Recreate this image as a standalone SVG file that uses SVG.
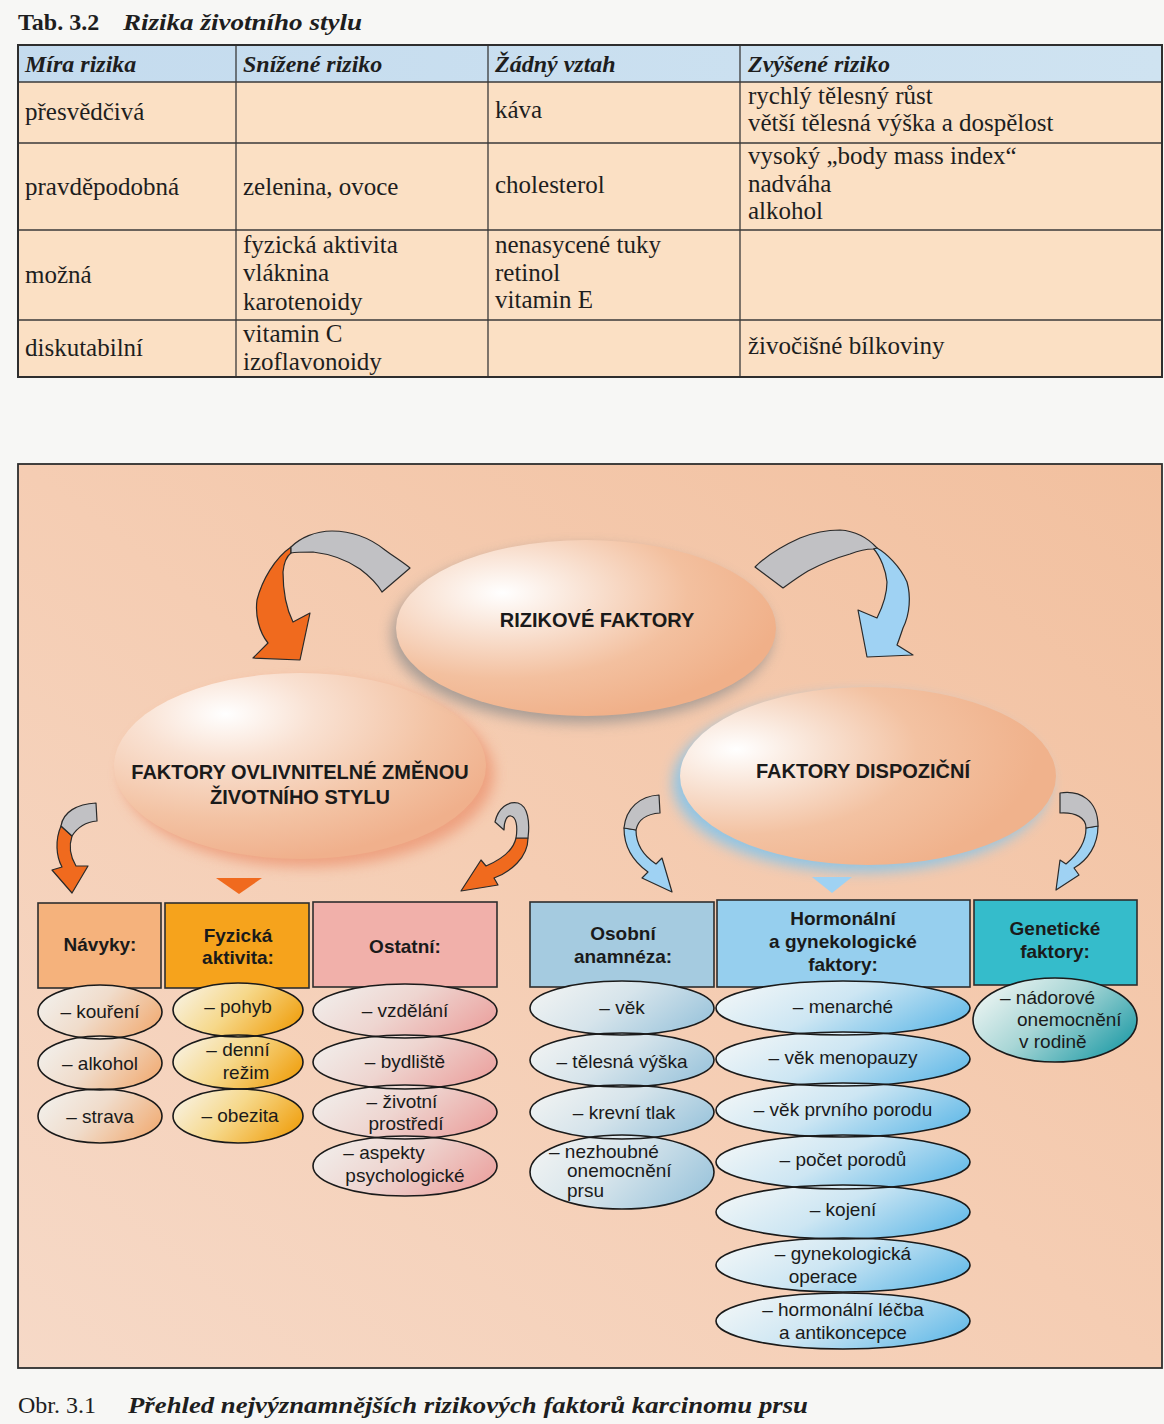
<svg xmlns="http://www.w3.org/2000/svg" width="1164" height="1424" viewBox="0 0 1164 1424">
  <defs>
    <style>
      .tb { font-family: "Liberation Serif", "Times New Roman", serif; font-size: 25px; fill: #1e1e1e; }
      .th { font-family: "Liberation Serif", "Times New Roman", serif; font-size: 24px; font-style: italic; font-weight: bold; fill: #1e1e1e; }
      .cap { font-family: "Liberation Serif", "Times New Roman", serif; font-size: 24px; fill: #1e1e1e; }
      .big { font-family: "Liberation Sans", Arial, sans-serif; font-size: 20px; font-weight: bold; fill: #1a1a1a; text-anchor: middle; }
      .hd { font-family: "Liberation Sans", Arial, sans-serif; font-size: 19px; font-weight: bold; fill: #1a1a1a; text-anchor: middle; }
      .it { font-family: "Liberation Sans", Arial, sans-serif; font-size: 19px; fill: #1a1a1a; text-anchor: middle; }
      .itl { font-family: "Liberation Sans", Arial, sans-serif; font-size: 19px; fill: #1a1a1a; }
      .grid { stroke: #3a3a3a; stroke-width: 1.3; fill: none; }
      .box { stroke: #2e2e2e; stroke-width: 1.6; }
      .ol { fill: none; stroke: #1a1a1a; stroke-width: 1.6; }
      .arr { stroke: #2a2a2a; stroke-width: 1.2; stroke-linejoin: round; }
      .grey { fill: #c1c1c4; }
      .orange { fill: #f06a1e; }
      .blue { fill: #9fd2f3; }
    </style>
    <linearGradient id="bgDiag" x1="1" y1="0" x2="0" y2="1">
      <stop offset="0" stop-color="#f2c09f"/>
      <stop offset="0.5" stop-color="#f5cdb3"/>
      <stop offset="1" stop-color="#f6d9c7"/>
    </linearGradient>
    <linearGradient id="thead" x1="0" y1="0" x2="1" y2="0">
      <stop offset="0" stop-color="#c4dbee"/>
      <stop offset="1" stop-color="#cfe3f1"/>
    </linearGradient>
    <radialGradient id="gRiz" cx="0.28" cy="0.3" r="0.75">
      <stop offset="0" stop-color="#ffffff"/>
      <stop offset="0.3" stop-color="#f9e2d3"/>
      <stop offset="0.65" stop-color="#f3c09f"/>
      <stop offset="1" stop-color="#f0b089"/>
    </radialGradient>
    <radialGradient id="gOvl" cx="0.3" cy="0.22" r="0.8">
      <stop offset="0" stop-color="#ffffff"/>
      <stop offset="0.3" stop-color="#f9e1d2"/>
      <stop offset="0.7" stop-color="#f3c3a4"/>
      <stop offset="1" stop-color="#f0b08c"/>
    </radialGradient>
    <radialGradient id="gDis" cx="0.15" cy="0.35" r="0.8">
      <stop offset="0" stop-color="#ffffff"/>
      <stop offset="0.3" stop-color="#f8e0d0"/>
      <stop offset="0.6" stop-color="#f3c2a2"/>
      <stop offset="1" stop-color="#f0b28c"/>
    </radialGradient>
    <linearGradient id="gNav" x1="0" y1="0.3" x2="1" y2="0.7">
      <stop offset="0" stop-color="#f2efea"/>
      <stop offset="0.45" stop-color="#f0dccb"/>
      <stop offset="1" stop-color="#f1ad76"/>
    </linearGradient>
    <linearGradient id="gFyz" x1="0" y1="0.3" x2="1" y2="0.7">
      <stop offset="0" stop-color="#f8f0dc"/>
      <stop offset="0.45" stop-color="#f6d88a"/>
      <stop offset="1" stop-color="#f0a010"/>
    </linearGradient>
    <linearGradient id="gOst" x1="0" y1="0.3" x2="1" y2="0.7">
      <stop offset="0" stop-color="#f1ece9"/>
      <stop offset="0.45" stop-color="#eed5d0"/>
      <stop offset="1" stop-color="#eba3a0"/>
    </linearGradient>
    <linearGradient id="gOso" x1="0" y1="0.3" x2="1" y2="0.7">
      <stop offset="0" stop-color="#eff2f2"/>
      <stop offset="0.45" stop-color="#d6e4eb"/>
      <stop offset="1" stop-color="#9cc5dc"/>
    </linearGradient>
    <linearGradient id="gHor" x1="0" y1="0.3" x2="1" y2="0.7">
      <stop offset="0" stop-color="#eff5f7"/>
      <stop offset="0.45" stop-color="#cde6f3"/>
      <stop offset="1" stop-color="#66bbe8"/>
    </linearGradient>
    <linearGradient id="gGen" x1="0" y1="0.2" x2="1" y2="0.8">
      <stop offset="0" stop-color="#eef5f3"/>
      <stop offset="0.45" stop-color="#a8d6d6"/>
      <stop offset="1" stop-color="#1e9ba6"/>
    </linearGradient>
    <filter id="soft" x="-20%" y="-20%" width="140%" height="140%">
      <feGaussianBlur stdDeviation="7"/>
    </filter>
  </defs>

  <!-- page -->
  <rect x="0" y="0" width="1164" height="1424" fill="#f7f7f5"/>

  <!-- table title -->
  <text x="18" y="30" class="cap" font-weight="bold">Tab. 3.2</text>
  <text x="123" y="30" class="th" textLength="239" lengthAdjust="spacingAndGlyphs">Rizika životního stylu</text>

  <!-- table -->
  <g id="table">
    <rect x="18" y="45" width="1144" height="37" fill="url(#thead)"/>
    <rect x="18" y="82" width="1144" height="295" fill="#fbe0c4"/>
    <g class="grid">
      <line x1="18" y1="82" x2="1162" y2="82"/>
      <line x1="18" y1="143" x2="1162" y2="143"/>
      <line x1="18" y1="230" x2="1162" y2="230"/>
      <line x1="18" y1="320" x2="1162" y2="320"/>
      <line x1="236" y1="45" x2="236" y2="377"/>
      <line x1="488" y1="45" x2="488" y2="377"/>
      <line x1="740" y1="45" x2="740" y2="377"/>
    </g>
    <rect x="18" y="45" width="1144" height="332" fill="none" stroke="#2e2e2e" stroke-width="2"/>

    <text x="25" y="72" class="th">Míra rizika</text>
    <text x="243" y="72" class="th">Snížené riziko</text>
    <text x="495" y="72" class="th">Žádný vztah</text>
    <text x="748" y="72" class="th">Zvýšené riziko</text>

    <text x="25" y="120" class="tb">přesvědčivá</text>
    <text x="495" y="118" class="tb">káva</text>
    <text x="748" y="104" class="tb">rychlý tělesný růst</text>
    <text x="748" y="131" class="tb">větší tělesná výška a dospělost</text>

    <text x="25" y="195" class="tb">pravděpodobná</text>
    <text x="243" y="195" class="tb">zelenina, ovoce</text>
    <text x="495" y="193" class="tb">cholesterol</text>
    <text x="748" y="164" class="tb">vysoký „body mass index“</text>
    <text x="748" y="192" class="tb">nadváha</text>
    <text x="748" y="219" class="tb">alkohol</text>

    <text x="25" y="283" class="tb">možná</text>
    <text x="243" y="253" class="tb">fyzická aktivita</text>
    <text x="243" y="281" class="tb">vláknina</text>
    <text x="243" y="310" class="tb">karotenoidy</text>
    <text x="495" y="253" class="tb">nenasycené tuky</text>
    <text x="495" y="281" class="tb">retinol</text>
    <text x="495" y="308" class="tb">vitamin E</text>

    <text x="25" y="356" class="tb">diskutabilní</text>
    <text x="243" y="342" class="tb">vitamin C</text>
    <text x="243" y="370" class="tb">izoflavonoidy</text>
    <text x="748" y="354" class="tb">živočišné bílkoviny</text>
  </g>

  <!-- figure panel -->
  <rect x="18" y="464" width="1144" height="904" fill="url(#bgDiag)" stroke="#2e2e2e" stroke-width="1.8"/>

  <!-- main factor groups -->
  <g id="node-ovlivnitelne">
    <ellipse cx="308" cy="774" rx="186" ry="93" fill="#ec9572" opacity="0.8" filter="url(#soft)"/>
    <ellipse cx="300" cy="766" rx="186" ry="93" fill="url(#gOvl)"/>
    <text x="300" y="779" class="big">FAKTORY OVLIVNITELNÉ ZMĚNOU</text>
    <text x="300" y="804" class="big">ŽIVOTNÍHO STYLU</text>
  </g>

  <g id="node-dispozicni">
    <ellipse cx="861" cy="783" rx="188" ry="89" fill="#7ec4ef" opacity="0.85" filter="url(#soft)"/>
    <ellipse cx="868" cy="776" rx="188" ry="89" fill="url(#gDis)"/>
    <text x="863" y="778" class="big">FAKTORY DISPOZIČNÍ</text>
  </g>

  <g id="node-rizikove">
    <ellipse cx="582" cy="635" rx="190" ry="88" fill="#8c8c8c" opacity="0.75" filter="url(#soft)"/>
    <ellipse cx="586" cy="628" rx="190" ry="88" fill="url(#gRiz)"/>
    <text x="597" y="627" class="big">RIZIKOVÉ FAKTORY</text>
  </g>

  <!-- curved block arrows and pointers -->
  <g id="connectors" class="arr">
    <!-- RIZIKOVÉ FAKTORY -> lifestyle factors -->
    <path class="orange" d="M291,547 C275,558 262,580 257,600 C255,615 259,632 268,643 L253,658 L300,660 L310,613 L293,622 C286,608 283,590 283,572 C284,562 287,556 291,553 Z"/>
    <path class="grey" d="M291,547 C300,538 315,531 332,531 C352,531 370,538 385,550 C396,558 404,563 410,568 L382,592 C376,582 368,575 360,569 C347,560 330,554 313,552 C304,552 296,552 291,553 Z"/>

    <!-- RIZIKOVÉ FAKTORY -> predisposing factors -->
    <path class="blue" d="M877,548 C886,553 900,566 907,582 C911,596 910,614 903,628 C901,634 899,640 897,645 L913,655 L867,657 L858,610 L877,618 C882,608 887,594 887,582 C886,571 881,557 873,548 Z"/>
    <path class="grey" d="M755,567 C765,557 780,547 800,538 C815,532 828,530 840,530 C855,531 868,538 877,548 L873,549 C866,549 858,551 850,554 C836,558 821,564 808,571 C798,577 790,583 783,588 Z"/>

    <!-- lifestyle factors -> Návyky -->
    <path class="orange" d="M61,826 C55,840 56,856 62,867 L52,870 L72,893 L88,866 L76,866 C70,856 69,845 72,836 Z"/>
    <path class="grey" d="M61,826 C63,812 77,804 96,803 L97,821 C86,822 77,828 72,836 Z"/>

    <!-- lifestyle factors -> Fyzická aktivita -->
    <polygon class="orange" points="216,878 262,878 239,894" stroke="none"/>

    <!-- lifestyle factors -> Ostatní -->
    <path class="orange" d="M528,838 C528,858 510,872 494,878 L498,885 L461,891 L481,860 L486,866 C500,860 513,852 516,838 Z"/>
    <path class="grey" d="M495,822 C498,808 508,801 518,803 C528,806 530,822 528,838 L516,838 C518,826 516,817 511,816 C507,815 504,821 504,830 Z"/>

    <!-- predisposing factors -> Osobní anamnéza -->
    <path class="blue" d="M624,828 C624,848 634,862 648,872 L642,878 L672,892 L662,858 L656,864 C644,856 636,845 636,830 Z"/>
    <path class="grey" d="M659,795 C640,796 626,808 624,828 L636,830 C638,820 646,814 660,813 Z"/>

    <!-- predisposing factors -> Hormonální a gynekologické faktory -->
    <polygon class="blue" points="812,877 852,877 832,893" stroke="none"/>

    <!-- predisposing factors -> Genetické faktory -->
    <path class="blue" d="M1098,826 C1098,845 1088,860 1074,868 L1079,875 L1056,890 L1060,860 L1066,864 C1078,854 1086,842 1086,828 Z"/>
    <path class="grey" d="M1060,793 C1080,790 1098,800 1098,826 L1086,828 C1086,818 1076,812 1060,813 Z"/>
  </g>

  <!-- Návyky -->
  <g id="node-navyky">
    <rect x="38" y="903" width="123" height="85" fill="#f5b27c" class="box"/>
    <text x="100" y="951" class="hd">Návyky:</text>
    <ellipse cx="100" cy="1012" rx="62" ry="27" fill="url(#gNav)"/>
    <ellipse cx="100" cy="1063" rx="62" ry="27" fill="url(#gNav)"/>
    <ellipse cx="100" cy="1116" rx="62" ry="27" fill="url(#gNav)"/>
    <ellipse cx="100" cy="1012" rx="62" ry="27" class="ol"/>
    <ellipse cx="100" cy="1063" rx="62" ry="27" class="ol"/>
    <ellipse cx="100" cy="1116" rx="62" ry="27" class="ol"/>
    <text x="100" y="1018" class="it">– kouření</text>
    <text x="100" y="1070" class="it">– alkohol</text>
    <text x="100" y="1123" class="it">– strava</text>
  </g>

  <!-- Fyzická aktivita -->
  <g id="node-fyzicka">
    <rect x="165" y="903" width="144" height="85" fill="#f6a31c" class="box"/>
    <text x="238" y="942" class="hd">Fyzická</text>
    <text x="238" y="964" class="hd">aktivita:</text>
    <ellipse cx="238" cy="1010" rx="65" ry="27" fill="url(#gFyz)"/>
    <ellipse cx="238" cy="1062" rx="65" ry="27" fill="url(#gFyz)"/>
    <ellipse cx="238" cy="1116" rx="65" ry="27" fill="url(#gFyz)"/>
    <ellipse cx="238" cy="1010" rx="65" ry="27" class="ol"/>
    <ellipse cx="238" cy="1062" rx="65" ry="27" class="ol"/>
    <ellipse cx="238" cy="1116" rx="65" ry="27" class="ol"/>
    <text x="238" y="1013" class="it">– pohyb</text>
    <text x="238" y="1056" class="it">– denní</text>
    <text x="246" y="1079" class="it">režim</text>
    <text x="240" y="1122" class="it">– obezita</text>
  </g>

  <!-- Ostatní -->
  <g id="node-ostatni">
    <rect x="313" y="902" width="184" height="85" fill="#f1b0aa" class="box"/>
    <text x="405" y="953" class="hd">Ostatní:</text>
    <ellipse cx="405" cy="1011" rx="92" ry="27" fill="url(#gOst)"/>
    <ellipse cx="405" cy="1062" rx="92" ry="27" fill="url(#gOst)"/>
    <ellipse cx="405" cy="1112" rx="92" ry="27" fill="url(#gOst)"/>
    <ellipse cx="405" cy="1166" rx="92" ry="30" fill="url(#gOst)"/>
    <ellipse cx="405" cy="1011" rx="92" ry="27" class="ol"/>
    <ellipse cx="405" cy="1062" rx="92" ry="27" class="ol"/>
    <ellipse cx="405" cy="1112" rx="92" ry="27" class="ol"/>
    <ellipse cx="405" cy="1166" rx="92" ry="30" class="ol"/>
    <text x="405" y="1017" class="it">– vzdělání</text>
    <text x="405" y="1068" class="it">– bydliště</text>
    <text x="402" y="1108" class="it">– životní</text>
    <text x="406" y="1130" class="it">prostředí</text>
    <text x="384" y="1159" class="it">– aspekty</text>
    <text x="405" y="1182" class="it">psychologické</text>
  </g>

  <!-- Osobní anamnéza -->
  <g id="node-osobni">
    <rect x="530" y="902" width="184" height="85" fill="#a5cbe0" class="box"/>
    <text x="623" y="940" class="hd">Osobní</text>
    <text x="623" y="963" class="hd">anamnéza:</text>
    <ellipse cx="622" cy="1008" rx="92" ry="27" fill="url(#gOso)"/>
    <ellipse cx="622" cy="1060" rx="92" ry="27" fill="url(#gOso)"/>
    <ellipse cx="622" cy="1112" rx="92" ry="27" fill="url(#gOso)"/>
    <ellipse cx="622" cy="1172" rx="92" ry="37" fill="url(#gOso)"/>
    <ellipse cx="622" cy="1008" rx="92" ry="27" class="ol"/>
    <ellipse cx="622" cy="1060" rx="92" ry="27" class="ol"/>
    <ellipse cx="622" cy="1112" rx="92" ry="27" class="ol"/>
    <ellipse cx="622" cy="1172" rx="92" ry="37" class="ol"/>
    <text x="622" y="1014" class="it">– věk</text>
    <text x="622" y="1068" class="it">– tělesná výška</text>
    <text x="624" y="1119" class="it">– krevní tlak</text>
    <text x="549" y="1158" class="itl">– nezhoubné</text>
    <text x="567" y="1177" class="itl">onemocnění</text>
    <text x="567" y="1197" class="itl">prsu</text>
  </g>

  <!-- Hormonální a gynekologické faktory -->
  <g id="node-hormonalni">
    <rect x="717" y="900" width="253" height="87" fill="#96cfee" class="box"/>
    <text x="843" y="925" class="hd">Hormonální</text>
    <text x="843" y="948" class="hd">a gynekologické</text>
    <text x="843" y="971" class="hd">faktory:</text>
    <ellipse cx="843" cy="1008" rx="127" ry="27" fill="url(#gHor)"/>
    <ellipse cx="843" cy="1059" rx="127" ry="27" fill="url(#gHor)"/>
    <ellipse cx="843" cy="1110" rx="127" ry="27" fill="url(#gHor)"/>
    <ellipse cx="843" cy="1162" rx="127" ry="27" fill="url(#gHor)"/>
    <ellipse cx="843" cy="1212" rx="127" ry="27" fill="url(#gHor)"/>
    <ellipse cx="843" cy="1265" rx="127" ry="27" fill="url(#gHor)"/>
    <ellipse cx="843" cy="1321" rx="127" ry="28" fill="url(#gHor)"/>
    <ellipse cx="843" cy="1008" rx="127" ry="27" class="ol"/>
    <ellipse cx="843" cy="1059" rx="127" ry="27" class="ol"/>
    <ellipse cx="843" cy="1110" rx="127" ry="27" class="ol"/>
    <ellipse cx="843" cy="1162" rx="127" ry="27" class="ol"/>
    <ellipse cx="843" cy="1212" rx="127" ry="27" class="ol"/>
    <ellipse cx="843" cy="1265" rx="127" ry="27" class="ol"/>
    <ellipse cx="843" cy="1321" rx="127" ry="28" class="ol"/>
    <text x="843" y="1013" class="it">– menarché</text>
    <text x="843" y="1064" class="it">– věk menopauzy</text>
    <text x="843" y="1116" class="it">– věk prvního porodu</text>
    <text x="843" y="1166" class="it">– počet porodů</text>
    <text x="843" y="1216" class="it">– kojení</text>
    <text x="843" y="1260" class="it">– gynekologická</text>
    <text x="823" y="1283" class="it">operace</text>
    <text x="843" y="1316" class="it">– hormonální léčba</text>
    <text x="843" y="1339" class="it">a antikoncepce</text>
  </g>

  <!-- Genetické faktory -->
  <g id="node-geneticke">
    <rect x="974" y="900" width="163" height="85" fill="#35bccb" class="box"/>
    <text x="1055" y="935" class="hd">Genetické</text>
    <text x="1055" y="958" class="hd">faktory:</text>
    <ellipse cx="1055" cy="1020" rx="82" ry="42" fill="url(#gGen)"/>
    <ellipse cx="1055" cy="1020" rx="82" ry="42" class="ol"/>
    <text x="1000" y="1004" class="itl">– nádorové</text>
    <text x="1017" y="1026" class="itl">onemocnění</text>
    <text x="1019" y="1048" class="itl">v rodině</text>
  </g>

  <!-- figure caption -->
  <text x="18" y="1413" class="cap">Obr. 3.1</text>
  <text x="128" y="1413" class="th" textLength="680" lengthAdjust="spacingAndGlyphs">Přehled nejvýznamnějších rizikových faktorů karcinomu prsu</text>
</svg>
